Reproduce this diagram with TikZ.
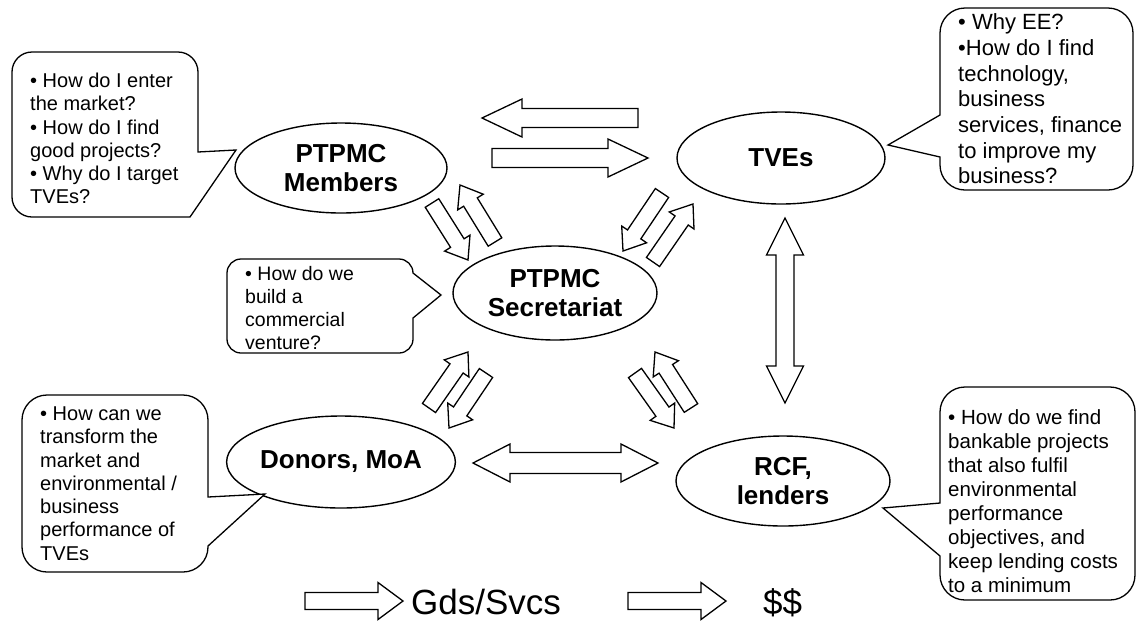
\documentclass[tikz,border=0pt]{standalone}
\usepackage{fontspec}
\setmainfont{Liberation Sans}
\usetikzlibrary{calc,shapes.geometric}
\tikzset{
  ell/.style={ellipse, draw, line width=1.4pt, inner sep=0pt, align=center,
    font=\bfseries\fontsize{26}{28.5}\selectfont},
  co/.style={draw, line width=1.3pt, fill=white, line join=miter},
  blk/.style={draw, line width=1.3pt, fill=white, line join=miter},
  ctext/.style={anchor=north west, inner sep=0pt, align=left},
  legend/.style={anchor=base west, inner sep=0pt, font=\fontsize{35}{40}\selectfont},
}
% single block arrow: tail, tip, shaft half width, head half width, head length
\newcommand\blkarrow[5]{%
  \coordinate (hbase) at ($(#2)!#5!(#1)$);
  \draw[blk] ($(#1)!#3!90:(#2)$) -- ($(hbase)!#3!90:(#2)$) -- ($(hbase)!#4!90:(#2)$)
    -- (#2) -- ($(hbase)!#4!-90:(#2)$) -- ($(hbase)!#3!-90:(#2)$)
    -- ($(#1)!#3!-90:(#2)$) -- cycle;}
% double block arrow: end A, end B, shaft half width, head half width, head length
\newcommand\dblarrow[5]{%
  \coordinate (hha) at ($(#1)!#5!(#2)$);
  \coordinate (hhb) at ($(#2)!#5!(#1)$);
  \draw[blk] (#1) -- ($(hha)!#4!90:(#2)$) -- ($(hha)!#3!90:(#2)$)
    -- ($(hhb)!#3!90:(#2)$) -- ($(hhb)!#4!90:(#2)$) -- (#2)
    -- ($(hhb)!#4!-90:(#2)$) -- ($(hhb)!#3!-90:(#2)$)
    -- ($(hha)!#3!-90:(#2)$) -- ($(hha)!#4!-90:(#2)$) -- cycle;}
\begin{document}
\begin{tikzpicture}[x=1pt,y=-1pt]
\useasboundingbox (0,0) rectangle (1138,622);
\fill[white] (0,0) rectangle (1138,622);

% ---------- ellipses ----------
\node[ell, minimum width=212pt, minimum height=90pt] (mem) at (341,168) {PTPMC\\Members};
\node[ell, minimum width=208pt, minimum height=92pt] (tve) at (781,158) {TVEs};
\node[ell, minimum width=204pt, minimum height=94pt] (sec) at (555,293) {PTPMC\\Secretariat};
\node[ell, minimum width=208pt, minimum height=92pt] (don) at (341,462) {Donors, MoA};
\node[ell, minimum width=214pt, minimum height=90pt] (rcf) at (783,481) {RCF,\\lenders};

% ---------- callouts ----------
\draw[co] (32,52) -- (178,52) arc[start angle=-90,end angle=0,radius=20]
  -- (198,152) -- (236,150) -- (190,217) -- (32,217)
  arc[start angle=90,end angle=180,radius=20] -- (12,72)
  arc[start angle=180,end angle=270,radius=20] -- cycle;
\node[ctext, font=\fontsize{20}{23.25}\selectfont] (q1) at (30,73)
  {• How do I enter\\the market?\\• How do I find\\good projects?\\• Why do I target\\TVEs?};

\draw[co] (965,8) -- (1108,8) arc[start angle=-90,end angle=0,radius=25]
  -- (1133,165) arc[start angle=0,end angle=90,radius=25] -- (965,190)
  arc[start angle=90,end angle=180,radius=25] -- (940,157) -- (888,145)
  -- (940,115) -- (940,33) arc[start angle=180,end angle=270,radius=25] -- cycle;
\node[ctext, font=\fontsize{22}{25.7}\selectfont] (q2) at (958,13.5)
  {• Why EE?\\•How do I find\\technology,\\business\\services, finance\\to improve my\\business?};

\draw[co] (241,259) -- (399,259) arc[start angle=-90,end angle=0,radius=14]
  -- (441,295) -- (413,318) -- (413,339) arc[start angle=0,end angle=90,radius=14]
  -- (241,353) arc[start angle=90,end angle=180,radius=14] -- (227,273)
  arc[start angle=180,end angle=270,radius=14] -- cycle;
\node[ctext, font=\fontsize{19.5}{23}\selectfont] (q3) at (245,266.5)
  {• How do we\\build a\\commercial\\venture?};

\draw[co] (47,395) -- (183,395) arc[start angle=-90,end angle=0,radius=25]
  -- (208,497) -- (265,494) -- (208,546) -- (208,547)
  arc[start angle=0,end angle=90,radius=25] -- (47,572)
  arc[start angle=90,end angle=180,radius=25] -- (22,420)
  arc[start angle=180,end angle=270,radius=25] -- cycle;
\node[ctext, font=\fontsize{20}{23.3}\selectfont] (q4) at (40,406.5)
  {• How can we\\transform the\\market and\\environmental /\\business\\performance of\\TVEs};

\draw[co] (965,387) -- (1110,387) arc[start angle=-90,end angle=0,radius=25]
  -- (1135,575) arc[start angle=0,end angle=90,radius=25] -- (965,600)
  arc[start angle=90,end angle=180,radius=25] -- (940,556) -- (883,508)
  -- (940,503) -- (940,412) arc[start angle=180,end angle=270,radius=25] -- cycle;
\node[ctext, font=\fontsize{20.5}{24}\selectfont] (q5) at (948,409.5)
  {• How do we find\\bankable projects\\that also fulfil\\environmental\\performance\\objectives, and\\keep lending costs\\to a minimum};

% ---------- arrow end points ----------
\coordinate (h1t) at (638,118); \coordinate (h1h) at (482,118);
\coordinate (h2t) at (492,158); \coordinate (h2h) at (648,158);
\coordinate (a1t) at (432,203); \coordinate (a1h) at (468,260);
\coordinate (a2t) at (495,242); \coordinate (a2h) at (460,185);
\coordinate (b1t) at (662,193); \coordinate (b1h) at (623,251);
\coordinate (b2t) at (653,262); \coordinate (b2h) at (693,204);
\coordinate (c1t) at (429,408); \coordinate (c1h) at (468,352);
\coordinate (c2t) at (486,373); \coordinate (c2h) at (449,428);
\coordinate (d1t) at (635,373); \coordinate (d1h) at (674,428);
\coordinate (d2t) at (691,408); \coordinate (d2h) at (655,352);
\coordinate (v1) at (785,218); \coordinate (v2) at (785,403);
\coordinate (w1) at (473,463); \coordinate (w2) at (658,463);
\coordinate (l1t) at (305,601); \coordinate (l1h) at (403,601);
\coordinate (l2t) at (628,601); \coordinate (l2h) at (726,601);

% ---------- block arrows ----------
\blkarrow{h1t}{h1h}{9.5pt}{19pt}{40pt}
\blkarrow{h2t}{h2h}{9.5pt}{19pt}{40pt}
\blkarrow{a1t}{a1h}{8pt}{15pt}{20pt}
\blkarrow{a2t}{a2h}{8pt}{15pt}{20pt}
\blkarrow{b1t}{b1h}{8pt}{15pt}{20pt}
\blkarrow{b2t}{b2h}{8pt}{15pt}{20pt}
\blkarrow{c1t}{c1h}{8pt}{15pt}{20pt}
\blkarrow{c2t}{c2h}{8pt}{15pt}{20pt}
\blkarrow{d1t}{d1h}{8pt}{15pt}{20pt}
\blkarrow{d2t}{d2h}{8pt}{15pt}{20pt}
\dblarrow{v1}{v2}{9pt}{18.5pt}{37pt}
\dblarrow{w1}{w2}{10.5pt}{19pt}{37pt}

% ---------- legend ----------
\blkarrow{l1t}{l1h}{8.5pt}{18.5pt}{25pt}
\blkarrow{l2t}{l2h}{8.5pt}{18.5pt}{25pt}
\node[legend] (gds) at (411,614) {Gds/Svcs};
\node[legend] (usd) at (763,614) {\$\$};
\end{tikzpicture}
\end{document}
